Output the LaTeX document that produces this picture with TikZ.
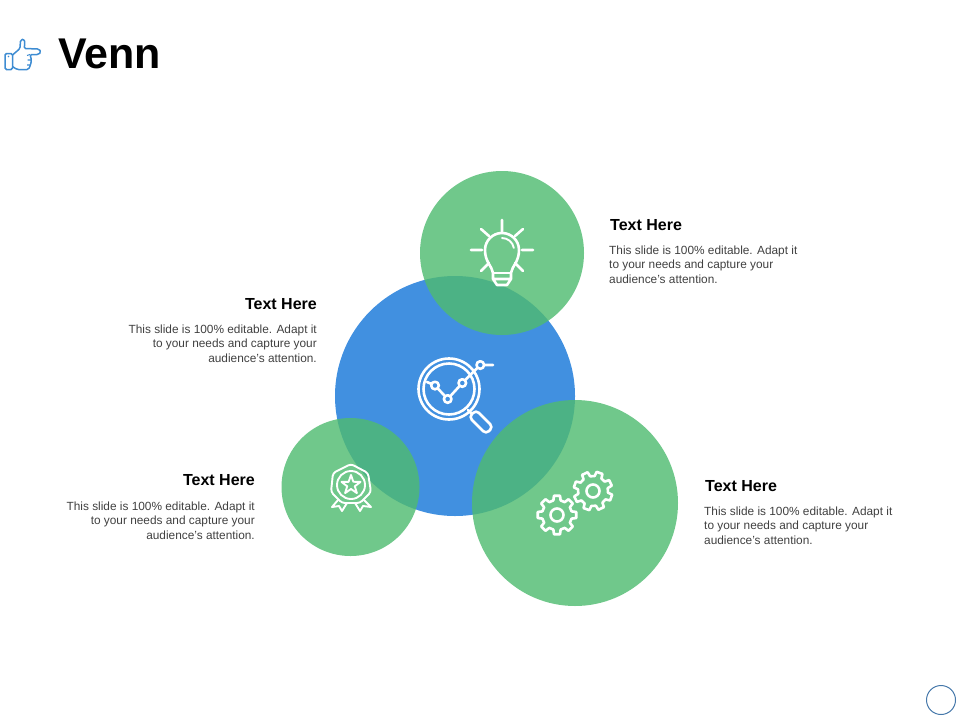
\documentclass[tikz,border=0pt]{standalone}
\usepackage{fontspec}
\setmainfont{Liberation Sans}
\definecolor{vennblue}{RGB}{65,144,224}
\definecolor{venngreen}{RGB}{79,187,112}
\definecolor{handblue}{RGB}{62,140,210}
\definecolor{ringblue}{RGB}{70,120,170}
\definecolor{bodygrey}{RGB}{64,64,64}
\begin{document}
\begin{tikzpicture}[
	x=1pt,y=-1pt,
	blueset/.style={circle,fill=vennblue,inner sep=0pt},
	greenset/.style={circle,fill=venngreen,fill opacity=.81,inner sep=0pt},
	heading/.style={inner sep=0pt,font=\fontsize{16}{18}\selectfont\bfseries},
	bodyleft/.style={inner sep=0pt,align=left,text=bodygrey,font=\fontsize{11.85}{14.4}\selectfont},
	bodyright/.style={inner sep=0pt,align=right,text=bodygrey,font=\fontsize{11.85}{14.4}\selectfont},
	iconline/.style={draw=white,line width=2.6pt,line cap=round,line join=round},
	thinline/.style={draw=white,line width=1.9pt,line cap=round,line join=round}]
\useasboundingbox (0,0) rectangle (960,720);
% title
\node[inner sep=0pt,anchor=west,font=\fontsize{43}{50}\selectfont\bfseries] (title) at (58,54) {Venn};
\draw[handblue,line width=1.5pt,rounded corners=1.5pt] (5,53.5) rectangle (12.5,69.5);
\fill[handblue] (8.5,56.5) circle[radius=.8];
\draw[handblue,line width=1.5pt,line join=round,rounded corners=1.5pt]
	(12.5,55) -- (20,48.5) -- (20.5,40) -- (24,39) -- (25,43.5) -- (24,48.5) -- (39,49)
	-- (41,52) -- (38.5,54.5) -- (30,54.5) -- (31.5,60) -- (30.5,65) -- (28.5,69.5)
	-- (17,69.5) -- (12.5,66.5);
\draw[handblue,line width=1.1pt] (30,54.5) -- (27,55.5) (31.5,60) -- (27.5,60) (30.5,65) -- (27,65);
% sets
\node[blueset,minimum size=240pt] (centreset) at (455,396) {};
\node[greenset,minimum size=164pt] (topset) at (502,253) {};
\node[greenset,minimum size=138pt] (leftset) at (350.5,487) {};
\node[greenset,minimum size=206pt] (rightset) at (575,503) {};
% bulb
\draw[iconline] (493,279) -- (493,273) .. controls (492,266) and (485,262) .. (485,250)
	arc[start angle=180,delta angle=180,radius=17] .. controls (519,262) and (512,266) .. (511,273) -- (511,279) -- (507,285) -- (497,285) -- (493,279) -- (511,279);
\draw[thinline] (493,273) -- (511,273) (502,238) arc[start angle=-90,delta angle=80,radius=12];
\draw[iconline] (502,232) -- (502,220) (471,250) -- (482,250) (522,250) -- (533,250)
	(481,229) -- (489,236) (523,229) -- (515,236) (481,271) -- (489,263) (523,271) -- (515,263);
% lens
\draw[iconline] (449,389) circle[radius=30.5] (449,389) circle[radius=25.5];
\draw[iconline] (427,382) -- (435,385.5) -- (447.7,399) -- (462.3,383) -- (480.3,365) -- (493,365);
\foreach \px/\py in {435/385.5,447.7/399,462.3/383,480.3/365}{
	\draw[iconline,fill=vennblue] (\px,\py) circle[radius=3.8];}
\draw[iconline] (468,410) -- (472,414);
\draw[iconline,rounded corners=4pt] (469,417) -- (476,410) -- (493,427) -- (486,434) -- cycle;
% ribbon
\draw[thinline,rounded corners=3pt] (351,464) -- (368,473) -- (371,492) -- (360,503) -- (342,503) -- (331,492) -- (333,473) -- cycle;
\draw[thinline] (351,485) circle[radius=14];
\draw[thinline] (351,475) \foreach \a in {1,...,4}{ -- ({351+4*sin(72*\a-36)},{485-4*cos(72*\a-36)}) -- ({351+10*sin(72*\a)},{485-10*cos(72*\a)})} -- (348.6,481.8) -- cycle;
\draw[thinline] (338,500) -- (332,507) -- (339,506) -- (342,511) -- (347,503)
	(364,500) -- (371,507) -- (363,506) -- (360,511) -- (355,503);
% gears
\foreach \gx/\gy/\turn in {557/515/0,593/491/20}{
	\draw[iconline] ({\gx+15*cos(\turn-14)},{\gy+15*sin(\turn-14)})
		\foreach \a in {0,45,...,315}{ -- ({\gx+15*cos(\a+\turn-14)},{\gy+15*sin(\a+\turn-14)}) -- ({\gx+19.5*cos(\a+\turn-9)},{\gy+19.5*sin(\a+\turn-9)}) -- ({\gx+19.5*cos(\a+\turn+9)},{\gy+19.5*sin(\a+\turn+9)}) -- ({\gx+15*cos(\a+\turn+14)},{\gy+15*sin(\a+\turn+14)})} -- cycle;
	\draw[iconline] (\gx,\gy) circle[radius=6.5];}
% captions
\node[heading,anchor=west] (headtop) at (610,225.5) {Text Here};
\node[bodyleft,anchor=north west] (bodytop) at (609,245.5) {This slide is 100\% editable. Adapt it\\to your needs and capture your\\audience's attention.};
\node[heading,anchor=east] (headleft) at (317,304.5) {Text Here};
\node[bodyright,anchor=north east] (bodyleftup) at (317,324.5) {This slide is 100\% editable. Adapt it\\to your needs and capture your\\audience's attention.};
\node[heading,anchor=east] (headlow) at (255,480.5) {Text Here};
\node[bodyright,anchor=north east] (bodylow) at (255,501.5) {This slide is 100\% editable. Adapt it\\to your needs and capture your\\audience's attention.};
\node[heading,anchor=west] (headright) at (705,486.5) {Text Here};
\node[bodyleft,anchor=north west] (bodyright) at (704,506.5) {This slide is 100\% editable. Adapt it\\to your needs and capture your\\audience's attention.};
% page mark
\node[circle,draw=ringblue,line width=1pt,minimum size=29pt,inner sep=0pt] (pagemark) at (941,700) {};
\end{tikzpicture}
\end{document}
